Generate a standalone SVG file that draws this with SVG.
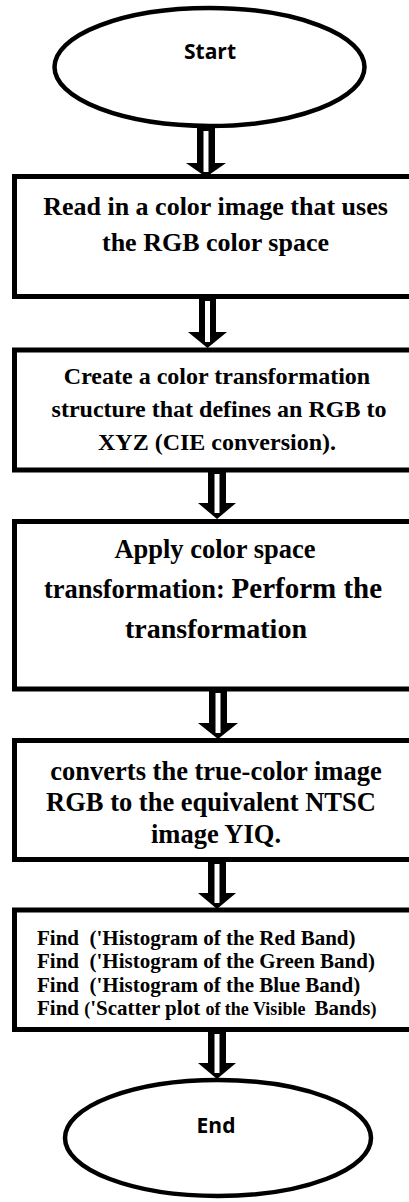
<svg xmlns="http://www.w3.org/2000/svg" width="409" height="1202" viewBox="0 0 409 1202">
<style>
.term{fill:#fff;stroke:#000;stroke-width:4.5}
.box{fill:#fff;stroke:#000;stroke-width:5}
.st{font-family:"Open Sans","Liberation Sans",sans-serif;font-weight:bold;font-size:21px;fill:#000;text-anchor:middle}
.tx{font-family:"Liberation Serif","Times New Roman",serif;font-weight:bold;fill:#000;text-anchor:middle}
.fd{font-family:"Liberation Serif","Times New Roman",serif;font-weight:bold;font-size:21px;fill:#000}
.ah{fill:#000}
.aw{fill:#fff}
</style>
<rect width="409" height="1202" fill="#fff"/>
<g id="start">
<ellipse class="term" cx="209.5" cy="67" rx="155" ry="59"/>
<text class="st" x="210" y="59">Start</text>
</g>
<g id="step1">
<rect class="box" x="14.5" y="176.5" width="420" height="120"/>
<text class="tx" font-size="26" x="215.5" y="215">Read in a color image that uses</text>
<text class="tx" font-size="26" x="215.5" y="251">the RGB color space</text>
</g>
<g id="step2">
<rect class="box" x="14.5" y="350" width="420" height="120"/>
<text class="tx" font-size="24" x="217" y="384">Create a color transformation</text>
<text class="tx" font-size="24" x="219" y="417">structure that defines an RGB to</text>
<text class="tx" font-size="24" x="217" y="450">XYZ (CIE conversion).</text>
</g>
<g id="step3">
<rect class="box" x="14.5" y="521.5" width="420" height="167.5"/>
<text class="tx" font-size="26.5" x="215" y="558">Apply color space</text>
<text class="tx" x="213" y="598"><tspan font-size="26.5">transformation: </tspan><tspan font-size="29">Perform the</tspan></text>
<text class="tx" font-size="28" x="216" y="638">transformation</text>
</g>
<g id="step4">
<rect class="box" x="14.5" y="740.5" width="420" height="119"/>
<text class="tx" font-size="26.5" x="216" y="780">converts the true-color image</text>
<text class="tx" font-size="26.5" x="211" y="811">RGB to the equivalent NTSC</text>
<text class="tx" font-size="26.5" x="216" y="843">image YIQ.</text>
</g>
<g id="step5">
<rect class="box" x="14.5" y="910" width="420" height="119.5"/>
<text class="fd" x="37" y="945" xml:space="preserve">Find  ('Histogram of the Red Band)</text>
<text class="fd" x="37" y="968" xml:space="preserve">Find  ('Histogram of the Green Band)</text>
<text class="fd" x="37" y="992" xml:space="preserve">Find  ('Histogram of the Blue Band)</text>
<text class="fd" x="37" y="1015" xml:space="preserve">Find <tspan font-size="18">(</tspan>'Scatter plot <tspan font-size="18">of the Visible  </tspan>Bands<tspan font-size="18">)</tspan></text>
</g>
<g id="end">
<ellipse class="term" cx="218" cy="1138" rx="153" ry="58"/>
<text class="st" x="216" y="1133">End</text>
</g>
<g id="connectors">
<polygon class="ah" points="197,127 215,127 215,163 226,163 206,177 186,163 197,163"/>
<rect class="aw" x="203.5" y="131" width="5" height="41"/>
<polygon class="ah" points="199,298 216,298 216,332 227,332 207.5,348 188,332 199,332"/>
<rect class="aw" x="205" y="301" width="5" height="41"/>
<polygon class="ah" points="208,471 226,471 226,503 236,503 217,519 198,503 208,503"/>
<rect class="aw" x="214.5" y="474" width="5" height="39"/>
<polygon class="ah" points="209,690 227,690 227,723 238,723 218,739 198,723 209,723"/>
<rect class="aw" x="215.5" y="693" width="5" height="40"/>
<polygon class="ah" points="208,861 226,861 226,893 236,893 217,909 198,893 208,893"/>
<rect class="aw" x="214.5" y="864" width="5" height="39"/>
<polygon class="ah" points="208,1031 226,1031 226,1063 236,1063 217,1079 198,1063 208,1063"/>
<rect class="aw" x="214.5" y="1034" width="5" height="39"/>
</g>
</svg>
